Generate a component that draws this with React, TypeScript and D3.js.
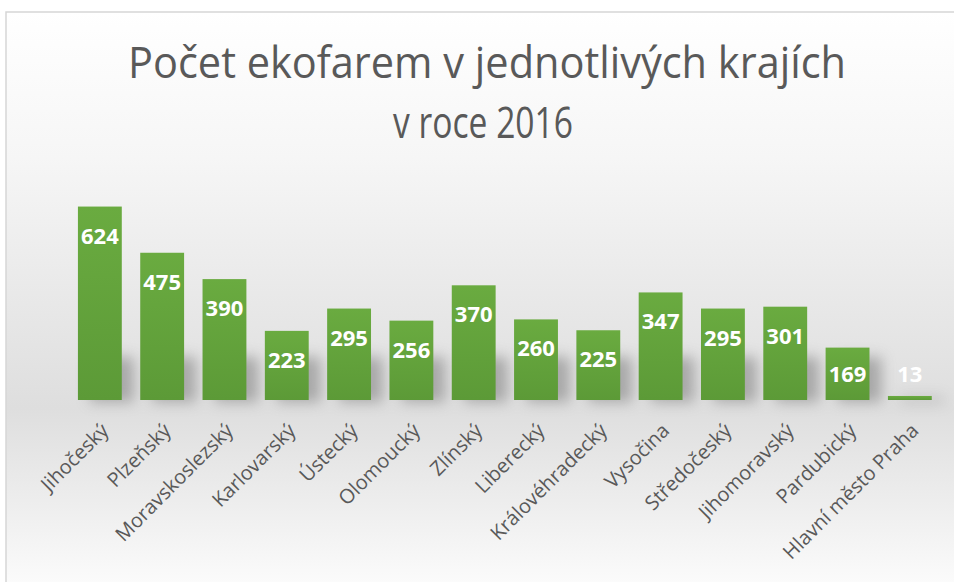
import React from "react";
import * as d3 from "d3";

const categories = ["Jihočeský","Plzeňský","Moravskoslezský","Karlovarský","Ústecký","Olomoucký","Zlínský","Liberecký","Královéhradecký","Vysočina","Středočeský","Jihomoravský","Pardubický","Hlavní město Praha"];
const values = [624,475,390,223,295,256,370,260,225,347,295,301,169,13];
const titleLines = ["Počet ekofarem v jednotlivých krajích", "v roce 2016"];

const W = 954, H = 582;
const baseY = 400;

export default function App() {
  const x = d3.scaleBand<string>().domain(categories).range([68.7, 941]).paddingInner(0.296).paddingOuter(0.148);
  const y = d3.scaleLinear().domain([0, 700]).range([baseY, 183]);
  const font = "'Open Sans', 'Noto Sans', sans-serif";
  return (
    <svg width={W} height={H} style={{ position: "absolute", left: 0, top: 0, display: "block" }} fontFamily={font}>
      <defs>
        <linearGradient id="bg" x1="0" y1="0" x2="0" y2="1">
          <stop offset="0" stopColor="#ffffff" />
          <stop offset="0.25" stopColor="#f6f6f6" />
          <stop offset="0.68" stopColor="#dedede" />
          <stop offset="0.86" stopColor="#efefef" />
          <stop offset="1" stopColor="#fdfdfd" />
        </linearGradient>
        <linearGradient id="bar" x1="0" y1="0" x2="0" y2="1">
          <stop offset="0" stopColor="#6aab40" />
          <stop offset="1" stopColor="#5c9a37" />
        </linearGradient>
        <filter id="shadow" x="-50%" y="-50%" width="200%" height="200%">
          <feGaussianBlur stdDeviation="7" />
        </filter>
      </defs>
      <rect x={0} y={0} width={W} height={H} fill="#ffffff" />
      <rect x={6} y={12} width={W} height={H} fill="url(#bg)" stroke="#d6d6d6" strokeWidth={1.5} />
      <g fontSize={44} fill="#595959" textAnchor="middle">
        <text x={487} y={78} textLength={718} lengthAdjust="spacingAndGlyphs">{titleLines[0]}</text>
        <text x={483} y={138} textLength={180} lengthAdjust="spacingAndGlyphs">{titleLines[1]}</text>
      </g>
      <g filter="url(#shadow)" opacity={0.5}>
        {categories.map((c, i) => {
          const h = baseY - y(values[i]);
          const sh = Math.min(h, 45);
          return <rect key={c} x={(x(c) as number) + 12} y={baseY - sh + 2} width={x.bandwidth()} height={sh} fill="#707070" />;
        })}
      </g>
      <g>
        {categories.map((c, i) => (
          <rect key={c} x={x(c)} y={y(values[i])} width={x.bandwidth()} height={baseY - y(values[i])} fill="url(#bar)" />
        ))}
      </g>
      <g fontSize={22} fontWeight={700} fill="#ffffff" textAnchor="middle">
        {categories.map((c, i) => (
          <text key={c} x={(x(c) as number) + x.bandwidth() / 2} y={Math.min(y(values[i]) + 37, baseY - 18)}>{values[i]}</text>
        ))}
      </g>
      <g fontSize={20} fill="#595959" textAnchor="end">
        {categories.map((c) => {
          const cx = (x(c) as number) + x.bandwidth() / 2 + 5;
          return <text key={c} transform={`translate(${cx},${427}) rotate(-45)`} dy="0.35em">{c}</text>;
        })}
      </g>
    </svg>
  );
}
